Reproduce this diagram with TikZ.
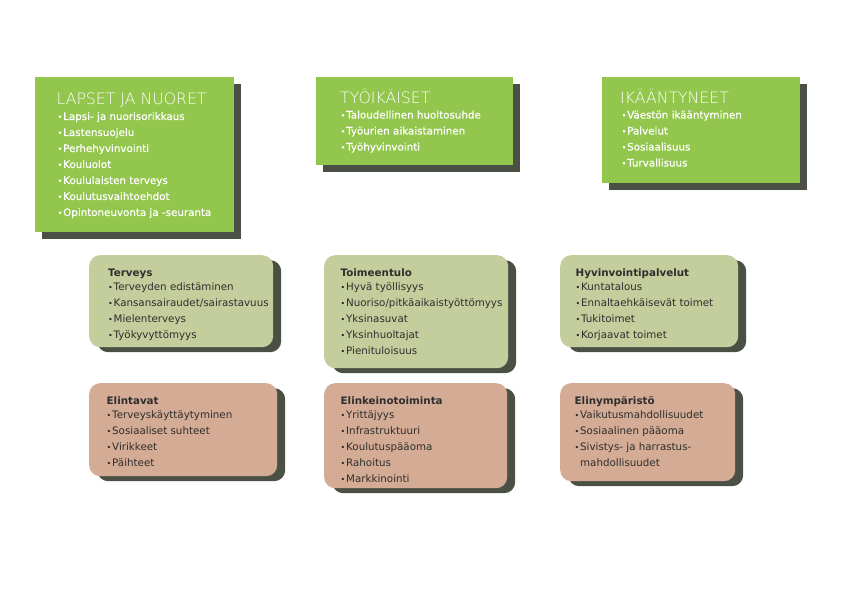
\documentclass[tikz,border=0pt]{standalone}
\usepackage{fontspec}
\setmainfont{DejaVu Sans}
\newfontfamily\thinfont{DejaVu Sans ExtraLight}
\newfontfamily\medfont{DejaVu Sans}[UprightFeatures={FakeBold=0.5}]
\usetikzlibrary{shadows}

\definecolor{leaf}{HTML}{93C64C}
\definecolor{shade}{HTML}{4B5045}
\definecolor{sage}{HTML}{C4CD9C}
\definecolor{clay}{HTML}{D4AB94}
\definecolor{ink}{HTML}{2E2E2E}

% small bullet in front of each line
\newcommand{\dotb}{\makebox[5.5bp][l]{\fontsize{8bp}{8bp}\selectfont\raisebox{0.3bp}{•}}}

% lists are placed by the baseline of their last line
\tikzset{
  headbox/.style={anchor=north west, inner sep=0pt, fill=leaf,
    drop shadow={shadow xshift=7bp, shadow yshift=-6.5bp, fill=shade, opacity=1}},
  roundbox/.style={anchor=north west, inner sep=0pt, rounded corners=11bp,
    drop shadow={shadow xshift=8bp, shadow yshift=-5bp, fill=shade, opacity=1}},
  headtitle/.style={anchor=base west, inner sep=0pt, text=white,
    font=\thinfont\fontsize{15.7bp}{18bp}\selectfont},
  headlist/.style={anchor=base west, inner sep=0pt, align=left, text=white,
    font=\medfont\fontsize{10.3bp}{16bp}\selectfont},
  boxlist/.style={anchor=base west, inner sep=0pt, align=left, text=ink,
    font=\fontsize{10.3bp}{16bp}\selectfont}
}

\begin{document}
\begin{tikzpicture}[x=1bp, y=-1bp]
\useasboundingbox (0,0) rectangle (842,595);

% age groups
\node[headbox, minimum width=199bp, minimum height=155bp] (lapset) at (35,77) {};
\node[headbox, minimum width=197bp, minimum height=88bp] (tyo) at (316,77) {};
\node[headbox, minimum width=198bp, minimum height=106bp] (ikaa) at (602,77) {};

\node[headtitle] (lapsetT) at (56.5,105) {LAPSET JA NUORET};
\node[headlist] (lapsetL) at (57.5,216) {\dotb Lapsi- ja nuorisorikkaus\\ \dotb Lastensuojelu\\
  \dotb Perhehyvinvointi\\ \dotb Kouluolot\\ \dotb Koululaisten terveys\\
  \dotb Koulutusvaihtoehdot\\ \dotb Opintoneuvonta ja -seuranta};

\node[headtitle] (tyoT) at (340,103.5) {TYÖIKÄISET};
\node[headlist] (tyoL) at (340.5,150.5) {\dotb Taloudellinen huoltosuhde\\
  \dotb Työurien aikaistaminen\\ \dotb Työhyvinvointi};

\node[headtitle] (ikaaT) at (620,103.5) {IKÄÄNTYNEET};
\node[headlist] (ikaaL) at (621.5,166.5) {\dotb Väestön ikääntyminen\\ \dotb Palvelut\\
  \dotb Sosiaalisuus\\ \dotb Turvallisuus};

% factors, middle row
\node[roundbox, fill=sage, minimum width=184bp, minimum height=92bp] (terveys) at (89,255) {};
\node[roundbox, fill=sage, minimum width=184bp, minimum height=113bp] (toime) at (324,255) {};
\node[roundbox, fill=sage, minimum width=178bp, minimum height=92bp] (hyvin) at (560,255) {};

\node[boxlist] (terveysL) at (108,338.5) {\textbf{Terveys}\\[-1.5bp]
  \dotb Terveyden edistäminen\\ \dotb Kansansairaudet/sairastavuus\\
  \dotb Mielenterveys\\ \dotb Työkyvyttömyys};
\node[boxlist] (toimeL) at (340.5,354.5) {\textbf{Toimeentulo}\\[-1.5bp]
  \dotb Hyvä työllisyys\\ \dotb Nuoriso/pitkäaikaistyöttömyys\\
  \dotb Yksinasuvat\\ \dotb Yksinhuoltajat\\ \dotb Pienituloisuus};
\node[boxlist] (hyvinL) at (575.5,338.5) {\textbf{Hyvinvointipalvelut}\\[-1.5bp]
  \dotb Kuntatalous\\ \dotb Ennaltaehkäisevät toimet\\
  \dotb Tukitoimet\\ \dotb Korjaavat toimet};

% factors, bottom row
\node[roundbox, fill=clay, minimum width=188bp, minimum height=93bp] (elintavat) at (89,383) {};
\node[roundbox, fill=clay, minimum width=183bp, minimum height=105bp] (elinkeino) at (324,383) {};
\node[roundbox, fill=clay, minimum width=175bp, minimum height=98bp] (elinymp) at (560,383) {};

\node[boxlist] (elintavatL) at (106.5,466.5) {\textbf{Elintavat}\\[-1.5bp]
  \dotb Terveyskäyttäytyminen\\ \dotb Sosiaaliset suhteet\\
  \dotb Virikkeet\\ \dotb Päihteet};
\node[boxlist] (elinkeinoL) at (340.5,482.5) {\textbf{Elinkeinotoiminta}\\[-1.5bp]
  \dotb Yrittäjyys\\ \dotb Infrastruktuuri\\ \dotb Koulutuspääoma\\
  \dotb Rahoitus\\ \dotb Markkinointi};
\node[boxlist] (elinympL) at (574.5,466.5) {\textbf{Elinympäristö}\\[-1.5bp]
  \dotb Vaikutusmahdollisuudet\\ \dotb Sosiaalinen pääoma\\
  \dotb Sivistys- ja harrastus-\\ \hspace*{5.5bp}mahdollisuudet};

\end{tikzpicture}
\end{document}
